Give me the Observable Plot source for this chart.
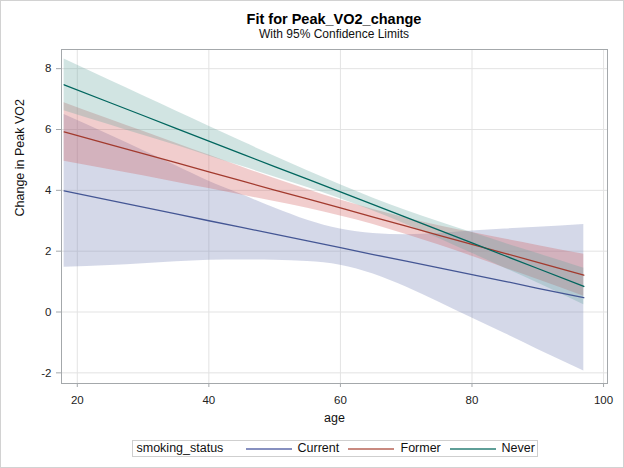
<!DOCTYPE html>
<html><head><meta charset="utf-8">
<script src="https://cdn.jsdelivr.net/npm/d3@7"></script>
<script src="https://cdn.jsdelivr.net/npm/@observablehq/plot@0.6"></script>
<style>
html,body{margin:0;padding:0;background:#fff;}
#page{position:relative;width:624px;height:468px;background:#fff;font-family:"Liberation Sans",Arial,sans-serif;overflow:hidden;outline:1px solid #d2d2d2;outline-offset:-1px;}
#title{position:absolute;left:61px;width:546px;top:10.8px;text-align:center;font-weight:bold;font-size:14.5px;color:#000;line-height:17px;white-space:nowrap;}
#subtitle{position:absolute;left:61px;width:546px;top:27.1px;text-align:center;font-size:12px;color:#111;line-height:14px;white-space:nowrap;}
#chart{position:absolute;left:0;top:45px;}
#legend{position:absolute;left:131.5px;top:440px;width:406px;height:17px;box-sizing:border-box;border:1px solid #cfcfcf;font-size:12.5px;color:#111;}
#legend span{position:absolute;top:0;line-height:15px;white-space:nowrap;}
#legend span.sw{top:7px;height:1.5px;width:46px;}
</style>
</head><body>
<div id="page">
  <div id="title">Fit for Peak_VO2_change</div>
  <div id="subtitle">With 95% Confidence Limits</div>
  <div id="chart"></div>
  <div id="legend"></div>
</div>
<script>
// ---- data ----
const ages = [18,25,30,35,40,45,50,55,60,65,70,75,80,85,90,97];
const groups = ["Current","Former","Never"];

const currentFit   = [3.98,3.67,3.45,3.23,3.00,2.78,2.56,2.34,2.12,1.89,1.67,1.45,1.23,1.01,0.78,0.47];
const currentLower = [1.47,1.53,1.59,1.65,1.70,1.71,1.70,1.66,1.54,1.25,0.82,0.32,-0.20,-0.71,-1.23,-1.94];
const currentUpper = [6.49,5.81,5.31,4.81,4.30,3.86,3.42,3.02,2.73,2.58,2.54,2.58,2.66,2.73,2.79,2.88];

const formerFit   = [5.92,5.50,5.21,4.91,4.61,4.31,4.01,3.72,3.42,3.12,2.82,2.52,2.22,1.93,1.63,1.21];
const formerLower = [4.96,4.68,4.48,4.27,4.06,3.85,3.63,3.41,3.16,2.88,2.55,2.20,1.83,1.45,1.07,0.52];
const formerUpper = [6.88,6.33,5.94,5.55,5.16,4.77,4.39,4.03,3.68,3.37,3.09,2.84,2.61,2.40,2.19,1.90];

const neverFit   = [7.47,6.88,6.46,6.04,5.62,5.20,4.78,4.37,3.95,3.53,3.11,2.69,2.27,1.85,1.43,0.84];
const neverLower = [6.62,6.15,5.81,5.48,5.13,4.79,4.44,4.09,3.72,3.32,2.88,2.42,1.93,1.44,0.95,0.24];
const neverUpper = [8.32,7.61,7.11,6.61,6.11,5.61,5.12,4.64,4.18,3.74,3.34,2.97,2.61,2.26,1.92,1.44];

const xTicks = [20,40,60,80,100];
const yTicks = [-2,0,2,4,6,8];

const lineColors   = {Current:"#445694", Former:"#A23A2E", Never:"#01665E"};
const fillColors   = {Current:"#6F7EB3", Former:"#D05B5B", Never:"#66A5A0"};
const legendColors = {Current:"#8790c0", Former:"#c98a80", Never:"#5f9f98"};

const series = {
  Current:{fit:currentFit, lo:currentLower, hi:currentUpper},
  Former:{fit:formerFit, lo:formerLower, hi:formerUpper},
  Never:{fit:neverFit, lo:neverLower, hi:neverUpper}
};
const tables = {};
for (const g of groups) {
  tables[g] = ages.map((a,i)=>({group:g, age:a, fit:series[g].fit[i], lo:series[g].lo[i], hi:series[g].hi[i]}));
}

const grid = "#e3e3e3";
const axisGray = "#a4a8ab";

const marks = [
  Plot.gridX(xTicks, {stroke:grid, strokeOpacity:1}),
  Plot.gridY(yTicks, {stroke:grid, strokeOpacity:1}),
  ...groups.map(g => Plot.areaY(tables[g], {x:"age", y1:"lo", y2:"hi", fill:fillColors[g], fillOpacity:0.3, curve:"monotone-x"})),
  ...groups.map(g => Plot.lineY(tables[g], {x:"age", y:"fit", stroke:lineColors[g], strokeWidth:1.3})),
  Plot.axisX({ticks:xTicks, tickSize:4, tickPadding:8, label:null, stroke:axisGray, fill:"#222", tickFormat:d=>String(d)}),
  Plot.axisY({ticks:yTicks, tickSize:5, tickPadding:5, label:null, stroke:axisGray, fill:"#222", tickFormat:d=>String(d)}),
  Plot.text(["age"], {frameAnchor:"bottom", dy:38, fontSize:12.5, fill:"#111"}),
  Plot.text(["Change in Peak VO2"], {frameAnchor:"left", rotate:-90, dx:-42, fontSize:12.5, fill:"#111"}),
  Plot.frame({stroke:axisGray})
];

const chart = Plot.plot({
  width:624, height:391,
  marginLeft:61, marginRight:17, marginTop:4, marginBottom:53,
  x:{domain:[17.6,100.6]},
  y:{domain:[-2.35,8.63]},
  style:{fontFamily:"'Liberation Sans', Arial, sans-serif", fontSize:"11.5px", color:"#222", background:"transparent", overflow:"visible"},
  marks
});
document.getElementById("chart").appendChild(chart);

// legend (positions relative to the legend box's left edge at x=131.5)
const lg = document.getElementById("legend");
function add(text, left, cls, color) {
  const s = document.createElement("span");
  if (cls) { s.className = cls; s.style.background = color; } else s.textContent = text;
  s.style.left = left + "px";
  lg.appendChild(s);
}
add("smoking_status", 4);
const swLeft = {Current:113, Former:215, Never:317};
const txLeft = {Current:165, Former:268, Never:369};
groups.forEach(g => { add("", swLeft[g], "sw", legendColors[g]); add(g, txLeft[g]); });
</script>
</body></html>
